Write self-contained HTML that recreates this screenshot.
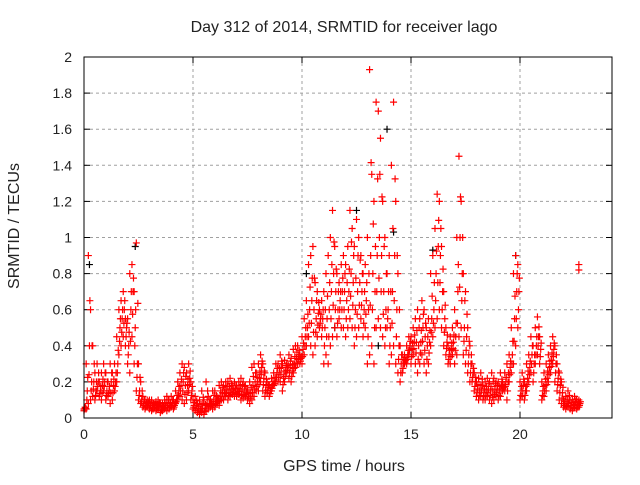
<!DOCTYPE html>
<html><head><meta charset="utf-8"><style>
body{margin:0;background:#fff;}
svg text{font-family:"Liberation Sans",sans-serif;fill:#222;}
</style></head><body>
<svg id="chart" width="640" height="480" xmlns="http://www.w3.org/2000/svg">
<text x="344" y="32" font-size="16" text-anchor="middle">Day 312 of 2014, SRMTID for receiver lago</text>
<text x="344" y="471" font-size="16" text-anchor="middle">GPS time / hours</text>
<text x="0" y="0" font-size="16" text-anchor="middle" transform="translate(19,226) rotate(-90)">SRMTID / TECUs</text>
<g id="grid"></g><g id="ticks"></g><g id="marks"></g>
<rect x="84" y="57" width="528" height="361" fill="none" stroke="#000" stroke-width="1"/>
</svg>
<script>
const xTicks=[0,5,10,15,20];
const yTicks=[0,0.2,0.4,0.6,0.8,1,1.2,1.4,1.6,1.8,2];
const yTickLabels=["0","0.2","0.4","0.6","0.8","1","1.2","1.4","1.6","1.8","2"];
const redT=[0,0.1,0.2,0.3,0.4,0.5,0.6,0.7,0.8,0.9,1,1.1,1.2,1.3,1.4,1.5,1.6,1.7,1.8,1.9,2,2.1,2.2,2.3,2.4,2.5,2.6,2.7,2.8,2.9,3,3.1,3.2,3.3,3.4,3.5,3.6,3.7,3.8,3.9,4,4.1,4.2,4.3,4.4,4.5,4.6,4.7,4.8,4.9,5,5.1,5.2,5.3,5.4,5.5,5.6,5.7,5.8,5.9,6,6.1,6.2,6.3,6.4,6.5,6.6,6.7,6.8,6.9,7,7.1,7.2,7.3,7.4,7.5,7.6,7.7,7.8,7.9,8,8.1,8.2,8.3,8.4,8.5,8.6,8.7,8.8,8.9,9,9.1,9.2,9.3,9.4,9.5,9.6,9.7,9.8,9.9,10,10.1,10.2,10.3,10.4,10.5,10.6,10.7,10.8,10.9,11,11.1,11.2,11.3,11.4,11.5,11.6,11.7,11.8,11.9,12,12.1,12.2,12.3,12.4,12.5,12.6,12.7,12.8,12.9,13,13.1,13.2,13.3,13.4,13.5,13.6,13.7,13.8,13.9,14,14.1,14.2,14.3,14.4,14.5,14.6,14.7,14.8,14.9,15,15.1,15.2,15.3,15.4,15.5,15.6,15.7,15.8,15.9,16,16.1,16.2,16.3,16.4,16.5,16.6,16.7,16.8,16.9,17,17.1,17.2,17.3,17.4,17.5,17.6,17.7,17.8,17.9,18,18.1,18.2,18.3,18.4,18.5,18.6,18.7,18.8,18.9,19,19.1,19.2,19.3,19.4,19.5,19.6,19.7,19.8,19.9,20,20.1,20.2,20.3,20.4,20.5,20.6,20.7,20.8,20.9,21,21.1,21.2,21.3,21.4,21.5,21.6,21.7,21.8,21.9,22,22.1,22.2,22.3,22.4,22.5,22.6,22.7];
const redLo=[.04,.05,.08,.1,.12,.1,.15,.12,.1,.15, .1,.12,.08,.1,.15,.2,.35,.4,.45,.4, .3,.25,.45,.3,.15,.1,.08,.06,.05,.06, .05,.04,.05,.04,.05,.03,.04,.05,.04,.05, .06,.05,.08,.1,.12,.1,.08,.1,.15,.1, .05,.04,.03,.02,.03,.02,.04,.05,.06,.05, .06,.08,.07,.1,.1,.12,.1,.12,.13,.12, .12,.13,.1,.11,.12,.1,.08,.1,.12,.15, .15,.2,.15,.12,.14,.12,.15,.18,.2,.2, .2,.15,.2,.25,.22,.2,.25,.28,.3,.3, .3,.35,.4,.45,.4,.35,.4,.45,.5,.45, .3,.35,.3,.4,.45,.5,.45,.55,.5,.5, .45,.5,.55,.5,.4,.45,.5,.55,.45,.5, .3,.35,.4,.3,.5,.55,.5,.45,.4,.5, .3,.35,.4,.3,.25,.2,.25,.3,.3,.35, .3,.35,.3,.25,.3,.35,.3,.25,.3,.4, .45,.5,.55,.6,.5,.4,.35,.3,.3,.35, .3,.35,.45,.5,.35,.3,.25,.2,.2,.15, .12,.1,.12,.1,.1,.12,.1,.08,.1,.12, .1,.12,.15,.15,.1,.2,.25,.3,.4,.5, .1,.12,.1,.15,.2,.25,.2,.3,.35,.3, .1,.12,.15,.2,.25,.3,.2,.15,.1,.08, .06,.05,.06,.05,.04,.06,.05,.06];
const redMid=[.06,.15,.4,.2,.2,.15,.2,.15,.18,.2, .15,.15,.2,.18,.2,.3,.5,.55,.6,.5, .4,.6,.7,.5,.3,.15,.1,.08,.07,.08, .07,.06,.07,.06,.07,.05,.06,.07,.08,.07, .08,.07,.1,.15,.18,.2,.18,.18,.22,.15, .07,.07,.05,.05,.08,.05,.1,.08,.08,.1, .1,.1,.12,.14,.14,.15,.15,.16,.15,.16, .15,.16,.15,.15,.14,.12,.14,.18,.2,.2, .22,.28,.22,.18,.17,.15,.18,.2,.25,.25, .28,.22,.26,.28,.28,.26,.3,.33,.35,.33, .38,.45,.5,.6,.65,.6,.55,.58,.55,.55, .5,.55,.6,.7,.8,.7,.6,.65,.7,.7, .65,.7,.8,.75,.6,.7,.75,.7,.6,.65, .6,.9,.8,.7,.9,1.0,.9,.7,.6,.6, .5,.7,.9,.6,.4,.3,.3,.32,.35,.4, .38,.42,.42,.4,.42,.5,.45,.4,.42,.55, .6,.8,.95,.9,.7,.55,.42,.35,.38,.42, .45,.7,1.0,.8,.5,.45,.35,.3,.25,.2, .16,.15,.18,.14,.15,.16,.15,.15,.16,.16, .15,.18,.17,.2,.2,.28,.35,.55,.7,.7, .15,.18,.15,.22,.28,.35,.3,.4,.45,.38, .15,.18,.22,.28,.32,.38,.3,.22,.18,.14, .08,.08,.1,.07,.07,.09,.07,.08];
const redHi=[.05,.3,.9,.6,.4,.25,.3,.2,.25,.3, .25,.2,.3,.25,.3,.45,.6,.65,.7,.55, .55,.8,.85,.7,.97,.3,.2,.12,.1,.1, .1,.1,.08,.09,.1,.08,.08,.1,.12,.1, .12,.1,.15,.2,.25,.3,.28,.25,.3,.2, .1,.12,.08,.1,.15,.1,.2,.12,.1,.15, .15,.12,.18,.2,.18,.2,.2,.22,.18,.2, .18,.2,.22,.2,.18,.15,.2,.28,.3,.25, .3,.35,.3,.25,.2,.18,.22,.25,.3,.3, .35,.3,.32,.3,.35,.33,.38,.4,.4,.35, .45,.55,.65,.85,.9,.95,.75,.7,.6,.65, .7,.8,.9,1.0,1.15,.95,.8,.75,.85,.9, .85,.95,1.15,1.05,.95,1.1,1.0,.9,.8,.85, 1.0,1.93,1.35,1.2,1.75,1.7,1.55,1.2,1.0,.8, .9,1.4,1.75,1.2,.8,.4,.35,.35,.4,.45, .45,.5,.55,.6,.55,.65,.6,.5,.55,.8, .9,1.05,1.24,1.2,.95,.7,.5,.4,.45,.5, .6,1.0,1.45,1.2,.8,.7,.5,.4,.3,.25, .2,.22,.25,.18,.2,.22,.2,.25,.22,.2, .2,.25,.2,.25,.3,.35,.5,.8,.9,.85, .2,.25,.2,.3,.35,.45,.4,.5,.56,.45, .2,.25,.3,.35,.4,.45,.4,.3,.25,.2, .1,.12,.15,.1,.1,.12,.1,.1];
const extraT=[22.7,22.7];
const extraV=[0.85,0.82];
const blackT=[0.25,2.35,10.2,11.5,12.5,13.5,13.9,14.2,16.0,19.8];
const blackV=[0.85,0.95,0.8,0.5,1.15,0.4,1.6,1.03,0.93,0.9];

const X0=84,X1=612,Y0=418,Y1=57,XMAX=24.22,YMAX=2;
function xs(t){return X0+(X1-X0)*t/XMAX;}
function ys(v){return Y0-(Y0-Y1)*v/YMAX;}
const NS="http://www.w3.org/2000/svg";
const grid=document.getElementById('grid'),ticks=document.getElementById('ticks'),marks=document.getElementById('marks');
function mk(tag,attrs,parent){const e=document.createElementNS(NS,tag);for(const k in attrs)e.setAttribute(k,attrs[k]);parent.appendChild(e);return e;}
xTicks.forEach(t=>{
  const x=xs(t);
  if(t>0){const g=mk('line',{x1:x,x2:x,y1:Y1,y2:Y0,stroke:'#a0a0a0','stroke-dasharray':'3,3'},grid);
  
  }
  mk('line',{x1:x,x2:x,y1:Y0,y2:Y0-6,stroke:'#000'},ticks);
  mk('line',{x1:x,x2:x,y1:Y1,y2:Y1+6,stroke:'#000'},ticks);
  const l=mk('text',{x:x,y:Y0+21,'font-size':14,'text-anchor':'middle'},ticks);l.textContent=t;
  
  
});
yTicks.forEach((v,i)=>{
  const y=ys(v);
  if(v>0&&v<YMAX){const g=mk('line',{x1:X0,x2:X1,y1:y,y2:y,stroke:'#a0a0a0','stroke-dasharray':'3,3'},grid);
  
  }
  mk('line',{x1:X0,x2:X0+6,y1:y,y2:y,stroke:'#000'},ticks);
  mk('line',{x1:X1,x2:X1-6,y1:y,y2:y,stroke:'#000'},ticks);
  const l=mk('text',{x:X0-12,y:y+5,'font-size':14,'text-anchor':'end'},ticks);l.textContent=yTickLabels[i];
  
  
});
function plus(t,v,color,name){
  const x=xs(t),y=ys(v);
  const p=mk('path',{d:`M${x-3.5},${y}H${x+3.5}M${x},${y-3.5}V${y+3.5}`,stroke:color,'stroke-width':1.2,fill:'none'},marks);
  
  
}
blackT.forEach((t,i)=>plus(t,blackV[i],'#000','black-point'));
redT.forEach((t,i)=>{
  plus(t,redLo[i],'#f00','red-point-low');
  plus(t+0.05,redMid[i],'#f00','red-point-mid');
  plus(t,redHi[i],'#f00','red-point-high');
  plus(t+0.03,(redLo[i]+redMid[i])/2,'#f00','red-point-fill');
  plus(t+0.07,(redMid[i]+redHi[i])/2,'#f00','red-point-fill');
});
extraT.forEach((t,i)=>plus(t,extraV[i],'#f00','red-point-extra'));
</script>
</body></html>
